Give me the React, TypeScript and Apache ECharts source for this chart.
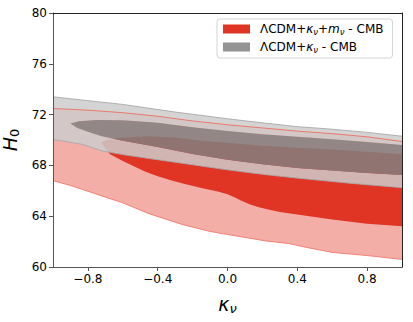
import React, { useEffect, useRef } from "react";
import * as echarts from "echarts";

// ---------- data ----------
const RED_NAME = "ΛCDM+κν+mν - CMB";
const GRAY_NAME = "ΛCDM+κν - CMB";

const xTicks = [-0.8, -0.4, 0, 0.4, 0.8];
const yTicks = [60, 64, 68, 72, 76, 80];

// red model, 2-sigma region (clipped at kappa = -1 and 1)
const redOuterUpper: number[][] = [
  [-1, 72.48], [-0.8, 72.35], [-0.6, 72.15], [-0.4, 71.87], [-0.2, 71.5], [0, 71.2],
  [0.2, 70.95], [0.4, 70.7], [0.6, 70.5], [0.8, 70.25], [1, 69.88],
];
const redOuterLower: number[][] = [
  [-1, 66.8], [-0.9, 66.42], [-0.83, 66.1], [-0.7, 65.5], [-0.6, 65.05], [-0.45, 64.2],
  [-0.26, 63.35], [-0.1, 62.8], [0, 62.56], [0.22, 62.05], [0.35, 61.85], [0.45, 61.55],
  [0.6, 61.15], [0.8, 60.9], [1, 60.6],
];
// red model, 1-sigma region (tip on the left)
const redInnerUpper: number[][] = [
  [-0.725, 69.8], [-0.68, 70.05], [-0.6, 70.2], [-0.45, 70.3], [-0.3, 70.2], [-0.15, 69.95],
  [0, 69.78], [0.2, 69.55], [0.4, 69.39], [0.6, 69.25], [0.8, 69.08], [1, 68.88],
];
const redInnerLower: number[][] = [
  [-0.7, 69.35], [-0.675, 68.9], [-0.6, 68.35], [-0.54, 67.95], [-0.47, 67.5], [-0.4, 67.15],
  [-0.32, 66.82], [-0.25, 66.55], [-0.15, 66.22], [-0.05, 65.92], [0, 65.72], [0.04, 65.5],
  [0.08, 65.22], [0.13, 64.93], [0.18, 64.7], [0.24, 64.5], [0.3, 64.34], [0.4, 64.13],
  [0.6, 63.74], [0.8, 63.4], [1, 63.2],
];
// gray model, 2-sigma region
const grayOuterUpper: number[][] = [
  [-1, 73.4], [-0.8, 73.1], [-0.6, 72.8], [-0.45, 72.5], [-0.3, 72.2], [-0.1, 71.85],
  [0, 71.67], [0.2, 71.35], [0.4, 71.05], [0.6, 70.85], [0.8, 70.6], [1, 70.3],
];
const grayOuterLower: number[][] = [
  [-1, 70.05], [-0.83, 69.65], [-0.715, 69.13], [-0.6, 68.85], [-0.45, 68.55], [-0.2, 68.05],
  [0, 67.65], [0.2, 67.3], [0.4, 67.0], [0.7, 66.6], [1, 66.25],
];
// gray model, 1-sigma region (tip on the left)
const grayInnerUpper: number[][] = [
  [-0.9, 71.3], [-0.85, 71.48], [-0.75, 71.58], [-0.6, 71.55], [-0.4, 71.35], [-0.2, 71.0],
  [0, 70.7], [0.2, 70.45], [0.4, 70.25], [0.6, 70.05], [0.8, 69.85], [1, 69.6],
];
const grayInnerLower: number[][] = [
  [-0.86, 70.95], [-0.8, 70.65], [-0.72, 70.3], [-0.6, 69.95], [-0.4, 69.45], [-0.2, 68.9],
  [0, 68.45], [0.2, 68.1], [0.4, 67.8], [0.6, 67.6], [0.8, 67.4], [1, 67.25],
];

// ---------- polygons built from the arrays ----------
const rev = (a: number[][]) => a.slice().reverse();
const redOuterPoly = [...redOuterUpper, ...rev(redOuterLower)];
const redInnerPoly = [...redInnerUpper, ...rev(redInnerLower)];
const grayInnerPoly = [...grayInnerUpper, ...rev(grayInnerLower)];
// 2-sigma minus 1-sigma (so the 1-sigma area is not double-shaded)
const grayRingPoly = [
  ...grayOuterUpper,
  ...rev(grayInnerUpper),
  ...grayInnerLower,
  ...rev(grayOuterLower),
];

const FONT = "DejaVu Sans";

function polySeries(name: string, poly: number[][], fill: string, opacity: number, z: number) {
  return {
    type: "custom",
    name,
    coordinateSystem: "cartesian2d",
    silent: true,
    z,
    data: poly,
    itemStyle: { color: fill },
    renderItem: (params: any, api: any) => {
      if (params.dataIndex !== 0) return null;
      return {
        type: "polygon",
        shape: { points: poly.map((p) => api.coord(p)) },
        style: { fill, opacity, stroke: null },
      };
    },
  };
}

function lineSeries(data: number[][], color: string, width: number, opacity: number, z: number) {
  return {
    type: "line",
    data,
    silent: true,
    z,
    showSymbol: false,
    symbol: "none",
    lineStyle: { color, width, opacity },
  };
}

const richLegend = {
  f: { fontFamily: FONT, fontSize: 12, color: "#000", lineHeight: 14, padding: [0, 0, 0, 5] },
  r: { fontFamily: FONT, fontSize: 12, color: "#000", lineHeight: 14 },
  i: { fontFamily: FONT, fontSize: 12, fontStyle: "italic", color: "#000", lineHeight: 14 },
  s: { fontFamily: FONT, fontSize: 8.5, fontStyle: "italic", color: "#000", lineHeight: 9, verticalAlign: "bottom" },
};

const option: any = {
  animation: false,
  textStyle: { fontFamily: FONT },
  grid: { left: 53, right: 11, top: 13, bottom: 55, containLabel: false, outerBoundsMode: "none" },
  legend: {
    orient: "vertical",
    left: 217,
    top: 19,
    padding: [4, 9, 4, 6],
    itemGap: 5,
    itemWidth: 27,
    itemHeight: 9,
    icon: "rect",
    backgroundColor: "#fff",
    borderColor: "#d5d5d5",
    borderWidth: 1,
    borderRadius: 3,
    selectedMode: false,
    data: [
      { name: RED_NAME, itemStyle: { color: "#E03424" } },
      { name: GRAY_NAME, itemStyle: { color: "#939393" } },
    ],
    formatter: (name: string) =>
      name === RED_NAME
        ? "{f|ΛCDM+}{i|κ}{s|ν}{r|+}{i|m}{s|ν}{r| - CMB}"
        : "{f|ΛCDM+}{i|κ}{s|ν}{r| - CMB}",
    textStyle: { rich: richLegend },
  },
  xAxis: [
    {
      type: "value",
      min: -1,
      max: 1,
      position: "bottom",
      z: 10,
      axisLine: { show: true, onZero: false, lineStyle: { color: "#555", width: 1 } },
      axisTick: { show: true, customValues: xTicks, length: 4, lineStyle: { color: "#555" } },
      axisLabel: {
        customValues: xTicks,
        formatter: (v: number) => (v < 0 ? "\u2212" + Math.abs(v).toFixed(1) : v.toFixed(1)),
        color: "#000",
        fontSize: 12,
        fontFamily: FONT,
        margin: 6,
      },
      splitLine: { show: false },
      name: "{i|κ}{s|ν}",
      nameLocation: "middle",
      nameGap: 26,
      nameTextStyle: {
        rich: {
          i: { fontFamily: FONT, fontStyle: "italic", fontSize: 19, lineHeight: 22, color: "#000" },
          s: { fontFamily: FONT, fontStyle: "italic", fontSize: 13, lineHeight: 13, verticalAlign: "bottom", color: "#000" },
        },
      },
    },
    {
      type: "value",
      min: -1,
      max: 1,
      position: "top",
      z: 10,
      axisLine: { show: true, onZero: false, lineStyle: { color: "#222", width: 1 } },
      axisTick: { show: false },
      axisLabel: { show: false },
      splitLine: { show: false },
    },
  ],
  yAxis: [
    {
      type: "value",
      min: 60,
      max: 80,
      interval: 4,
      position: "left",
      z: 10,
      axisLine: { show: true, onZero: false, lineStyle: { color: "#555", width: 1 } },
      axisTick: { show: true, length: 4, lineStyle: { color: "#555" } },
      axisLabel: {
        customValues: yTicks,
        color: "#000",
        fontSize: 12,
        fontFamily: FONT,
        margin: 6,
      },
      splitLine: { show: false },
      name: "{i|H}{s|0}",
      nameLocation: "middle",
      nameGap: 18,
      nameTextStyle: {
        rich: {
          i: { fontFamily: FONT, fontStyle: "italic", fontSize: 19, lineHeight: 22, color: "#000" },
          s: { fontFamily: FONT, fontSize: 13, lineHeight: 13, verticalAlign: "bottom", color: "#000" },
        },
      },
    },
    {
      type: "value",
      min: 60,
      max: 80,
      interval: 4,
      position: "right",
      z: 10,
      axisLine: { show: true, onZero: false, lineStyle: { color: "#222", width: 1 } },
      axisTick: { show: false },
      axisLabel: { show: false },
      splitLine: { show: false },
    },
  ],
  series: [
    polySeries("red2", redOuterPoly, "#f3aea7", 1, 1),
    polySeries(RED_NAME, redInnerPoly, "#E03424", 1, 2),
    polySeries("gray2", grayRingPoly, "#cccccc", 0.85, 3),
    polySeries(GRAY_NAME, grayInnerPoly, "#808080", 0.85, 4),
    lineSeries(grayOuterUpper, "#a8a8a8", 1, 0.9, 5),
    lineSeries(grayOuterLower, "#a8a8a8", 1, 0.9, 5),
    lineSeries(redOuterUpper, "#ec6e60", 1, 0.9, 6),
    lineSeries(redOuterLower, "#ef7a6d", 1, 0.9, 6),
  ],
};

export default function App() {
  const ref = useRef<HTMLDivElement>(null);
  useEffect(() => {
    const chart = echarts.init(ref.current as HTMLDivElement, null, { renderer: "svg" });
    chart.setOption(option);
    return () => chart.dispose();
  }, []);
  return (
    <div
      ref={ref}
      style={{ position: "absolute", left: 0, top: 0, width: 413, height: 322 }}
    />
  );
}
